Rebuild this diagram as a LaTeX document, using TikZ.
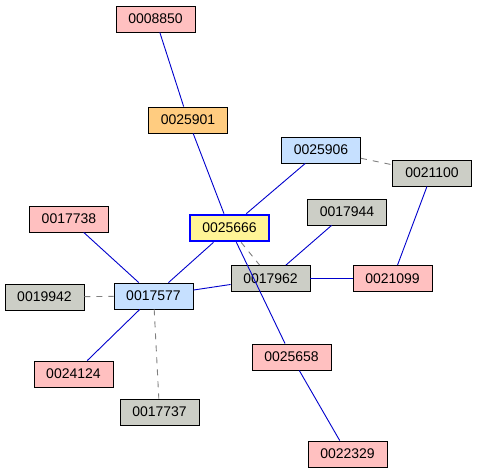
\documentclass[tikz,border=0pt]{standalone}
\usepackage{fontspec}
\setmainfont{Liberation Sans}
\usepackage{xcolor}
\usepackage{tikz}
\usetikzlibrary{arrows.meta}

\definecolor{refpink}{RGB}{255,192,192}
\definecolor{reforange}{RGB}{255,204,128}
\definecolor{refblue}{RGB}{198,224,255}
\definecolor{refgray}{RGB}{204,206,198}
\definecolor{refyellow}{RGB}{255,244,150}

\begin{document}
\begin{tikzpicture}[
  x=1pt, y=-1pt,
  every node/.style={font=\fontsize{14}{16}\selectfont},
  paper/.style={rectangle, draw=black, line width=0.9pt, inner sep=0pt,
                minimum width=79pt, minimum height=26pt},
  cites/.style={paper, fill=refpink},
  citedby/.style={paper, fill=refblue},
  parent/.style={paper, fill=reforange},
  other/.style={paper, fill=refgray},
  focus/.style={paper, fill=refyellow, draw=blue, line width=2.6pt},
  link/.style={draw=blue!80!black, line width=0.9pt},
  weaklink/.style={draw=gray, line width=0.9pt, dash pattern=on 6pt off 6pt}
]
  \useasboundingbox (0,0) rectangle (479,475);

  % papers
  \node[cites]   (p8850) at (155.5,19)  {0008850};
  \node[parent]  (p25901) at (188,120)  {0025901};
  \node[citedby] (p25906) at (321,150)  {0025906};
  \node[other]   (p21100) at (432,173)  {0021100};
  \node[cites]   (p17738) at (69,219)   {0017738};
  \node[other]   (p17944) at (347,212)  {0017944};
  \node[focus]   (p25666) at (229.5,228) {0025666};
  \node[other]   (p17962) at (270.5,278.5) {0017962};
  \node[cites]   (p21099) at (392.5,278.5) {0021099};
  \node[other]   (p19942) at (44.5,297) {0019942};
  \node[citedby] (p17577) at (153.5,296) {0017577};
  \node[cites]   (p25658) at (291.5,357) {0025658};
  \node[cites]   (p24124) at (73.5,374) {0024124};
  \node[other]   (p17737) at (159.5,412) {0017737};
  \node[cites]   (p22329) at (347.5,454) {0022329};

  % links
  \draw[link] (p8850) -- (p25901);
  \draw[link] (p25901) -- (p25666);
  \draw[link] (p25906) -- (p25666);
  \draw[link] (p25666) -- (p17577);
  \draw[link] (p25666) -- (p25658);
  \draw[link] (p17738) -- (p17577);
  \draw[link] (p17577) -- (p17962);
  \draw[link] (p17577) -- (p24124);
  \draw[link] (p17944) -- (p17962);
  \draw[link] (p17962) -- (p21099);
  \draw[link] (p21099) -- (p21100);
  \draw[link] (p25658) -- (p22329);
  \draw[weaklink] (p25906) -- (p21100);
  \draw[weaklink] (p25666) -- (p17962);
  \draw[weaklink] (p19942) -- (p17577);
  \draw[weaklink] (p17577) -- (p17737);
\end{tikzpicture}
\end{document}
